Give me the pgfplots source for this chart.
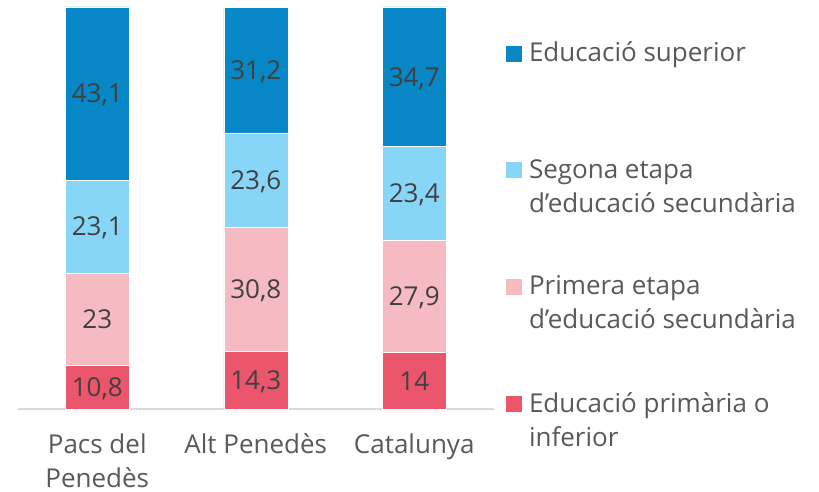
\documentclass[border=0pt]{standalone}
\usepackage{pgfplots}
\pgfplotsset{compat=1.18}
\usepackage{fontspec}
\setmainfont{Open Sans}
\definecolor{csup}{HTML}{0787C5}
\definecolor{cseg}{HTML}{87D5F7}
\definecolor{cpri}{HTML}{F6BAC3}
\definecolor{cpmr}{HTML}{EB566D}
\definecolor{txtgrey}{HTML}{595959}
\definecolor{lblgrey}{HTML}{404040}
\definecolor{axgrey}{HTML}{D9D9D9}
\newcommand{\fnt}{\fontsize{26}{34}\selectfont}
\begin{document}
\begin{tikzpicture}[font=\fnt]
\path[use as bounding box] (0,0) rectangle (819pt,491pt);
\begin{axis}[
  at={(18pt,82pt)}, anchor=south west,
  scale only axis, width=475.5pt, height=402pt,
  ybar stacked, bar width=64pt,
  xmin=-0.5, xmax=2.5, ymin=0, ymax=100,
  hide y axis,
  axis x line*=bottom,
  x axis line style={draw=axgrey, line width=1.5pt},
  xtick={0,1,2}, major tick length=0pt,
  xticklabels={{\parbox[t]{160pt}{\centering Pacs del\\Penedès}},{\parbox[t]{160pt}{\centering Alt Penedès}},{\parbox[t]{160pt}{\centering Catalunya}}},
  xticklabel style={anchor=base, yshift=-44pt, text=txtgrey, font=\fnt, inner sep=0pt},
  clip=false,
  /pgf/number format/use comma,
  /pgf/number format/1000 sep={},
  /pgf/number format/assume math mode=true,
  visualization depends on={rawy \as \rawy},
  nodes near coords={\raisebox{-9.3pt}[0pt][0pt]{\pgfmathprintnumber{\rawy}}},
  every node near coord/.append style={anchor=base, inner sep=0pt, text=lblgrey, font=\fnt},
  reverse legend,
  legend image code/.code={\fill[#1,draw=none] (0pt,0pt) rectangle (16pt,16pt);},
  legend style={draw=none, fill=none, at={(1.0263,0.918)}, anchor=north west,
    inner sep=0pt, outer sep=0pt, row sep=92pt, text=txtgrey,
    font=\fnt,
    cells={anchor=base west, inner sep=0pt},
    /tikz/every odd column/.append style={column sep=5pt}},
]
\addplot[fill=cpmr, draw=white, line width=0.5pt] coordinates {(0,10.8) (1,14.3) (2,14)};
\addlegendentry{\parbox[t]{300pt}{Educació primària o\\inferior}}
\addplot[fill=cpri, draw=white, line width=0.5pt] coordinates {(0,23) (1,30.8) (2,27.9)};
\addlegendentry{\parbox[t]{300pt}{Primera etapa\\d’educació secundària}}
\addplot[fill=cseg, draw=white, line width=0.5pt] coordinates {(0,23.1) (1,23.6) (2,23.4)};
\addlegendentry{\parbox[t]{300pt}{Segona etapa\\d’educació secundària}}
\addplot[fill=csup, draw=white, line width=0.5pt] coordinates {(0,43.1) (1,31.2) (2,34.7)};
\addlegendentry{Educació superior}
\end{axis}
\end{tikzpicture}
\end{document}
